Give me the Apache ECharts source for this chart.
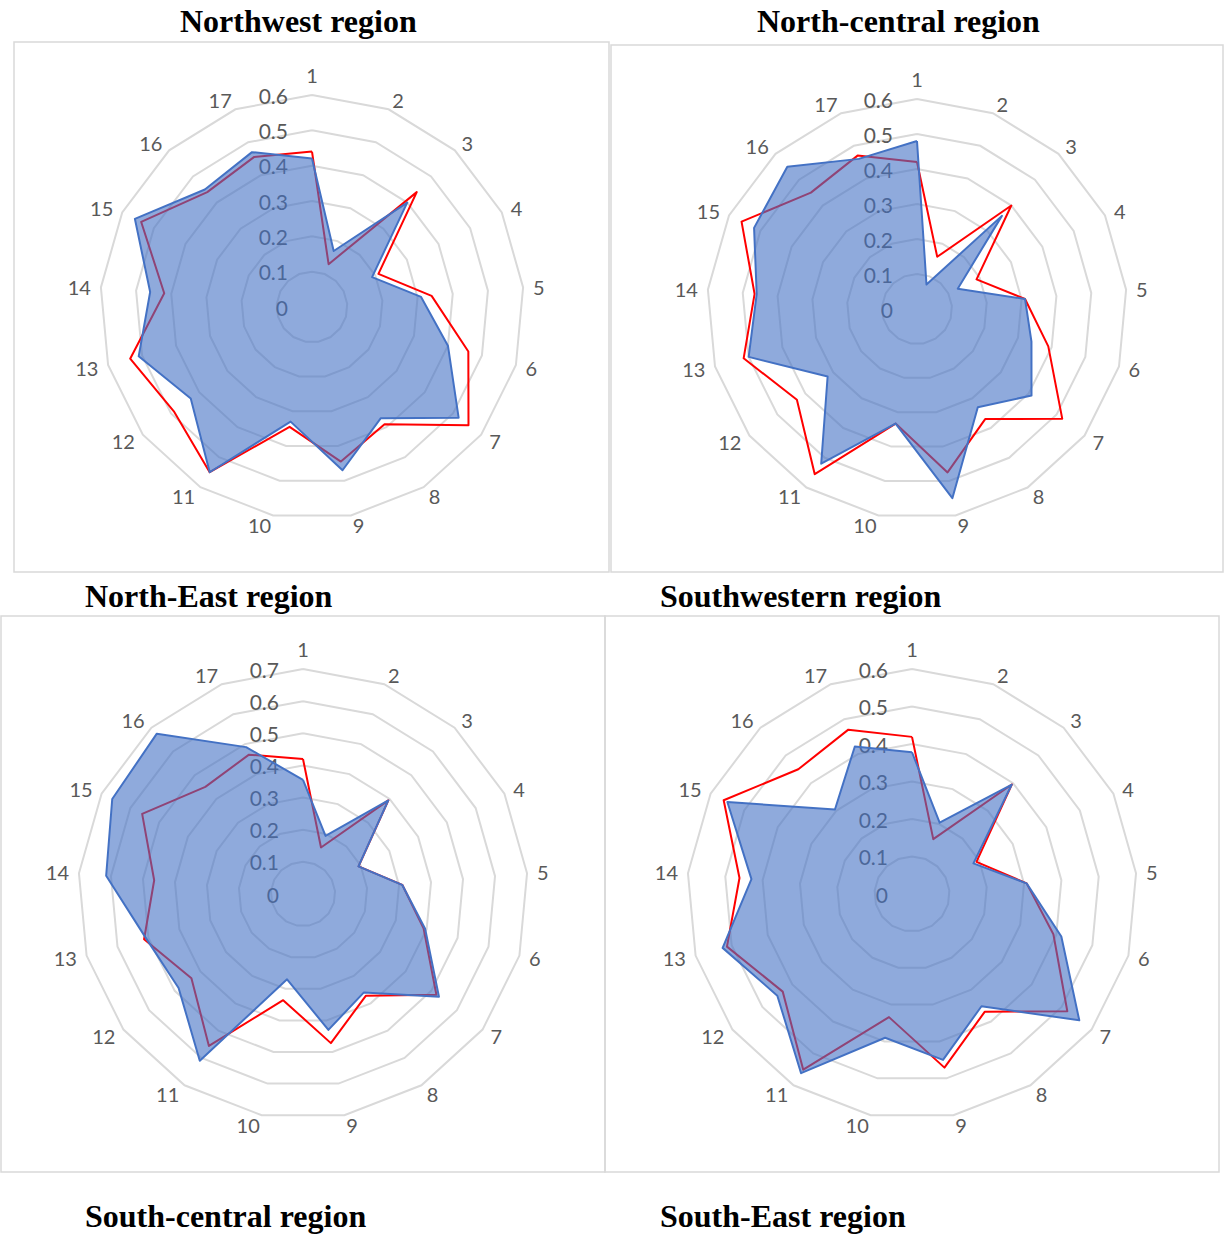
<!DOCTYPE html>
<html>
<head>
<meta charset="utf-8">
<script src="https://cdn.jsdelivr.net/npm/echarts@6/dist/echarts.min.js"></script>
<style>
html,body{margin:0;padding:0;background:#fff;}
#c{width:1225px;height:1237px;}
</style>
</head>
<body>
<div id="c"></div>
<script>
const axisNames = ['1','2','3','4','5','6','7','8','9','10','11','12','13','14','15','16','17'];
const regionTitles = ['Northwest region','North-central region','North-East region','Southwestern region','South-central region','South-East region'];

// Chart 1 (top-left)
const c1Blue = [0.42,0.17,0.40,0.19,0.31,0.40,0.52,0.37,0.47,0.33,0.55,0.43,0.51,0.46,0.56,0.45,0.47];
const c1Red  = [0.44,0.13,0.44,0.21,0.34,0.46,0.555,0.39,0.445,0.345,0.55,0.49,0.535,0.42,0.54,0.44,0.455];
// Chart 2 (top-right)
const c2Blue = [0.48,0.075,0.36,0.13,0.31,0.34,0.41,0.33,0.55,0.333,0.52,0.32,0.50,0.46,0.52,0.55,0.46];
const c2Red  = [0.42,0.16,0.40,0.19,0.31,0.39,0.52,0.37,0.475,0.333,0.555,0.43,0.515,0.466,0.56,0.45,0.47];
// Chart 3 (bottom-left)
const c3Blue = [0.355,0.194,0.394,0.193,0.31,0.395,0.53,0.36,0.43,0.27,0.61,0.485,0.507,0.615,0.663,0.675,0.49];
const c3Red  = [0.42,0.155,0.394,0.193,0.31,0.39,0.52,0.372,0.472,0.336,0.556,0.435,0.514,0.465,0.559,0.451,0.465];
// Chart 4 (bottom-right)
const c4Blue = [0.378,0.204,0.395,0.183,0.307,0.414,0.559,0.352,0.45,0.39,0.562,0.45,0.525,0.43,0.55,0.305,0.422];
const c4Red  = [0.419,0.157,0.395,0.192,0.307,0.392,0.519,0.369,0.471,0.334,0.551,0.432,0.513,0.462,0.561,0.45,0.47];

const axisMax = [0.6, 0.6, 0.7, 0.6];

// ECharts radar places indicators counter-clockwise; reorder so they read clockwise.
const order = [0].concat(Array.from({length: 16}, (_, i) => 16 - i));
const reorder = arr => order.map(i => arr[i]);

const labelFont = 'Lato, "Liberation Sans", sans-serif';
const grey = '#595959';

function makeRadar(center, radius, max) {
  return {
    center: center,
    radius: radius,
    startAngle: 90,
    splitNumber: Math.round(max * 10),
    shape: 'polygon',
    nameGap: 10,
    axisName: {color: grey, fontSize: 20, fontFamily: labelFont},
    indicator: order.map((i, k) => ({
      name: axisNames[i], min: 0, max: max,
      axisLabel: {show: k === 0}
    })),
    splitLine: {lineStyle: {color: '#d9d9d9', width: 2}},
    splitArea: {show: false},
    axisLine: {show: false},
    axisTick: {show: false},
    axisLabel: {
      show: false, color: grey, fontSize: 21, fontFamily: labelFont, margin: 24,
      formatter: v => String(Math.round(v * 10) / 10)
    }
  };
}

function makeSeries(idx, blue, red) {
  return {
    type: 'radar', radarIndex: idx, symbol: 'none', silent: true,
    data: [
      {value: reorder(red), lineStyle: {color: '#ff0000', width: 2}},
      {value: reorder(blue), lineStyle: {color: '#4472c4', width: 2},
       areaStyle: {color: '#4472c4', opacity: 0.6}}
    ]
  };
}

const titleStyle = {fontFamily: '"Liberation Serif", "Times New Roman", serif', fontWeight: 'bold', fontSize: 32, color: '#000'};
const titlePos = [[180, 5], [757, 5], [85, 580], [660, 580], [85, 1200], [660, 1200]];

const boxes = [[14, 42, 595, 530], [611, 45, 612, 527], [1, 616, 604, 556], [605, 616, 614, 556]];

const chart = echarts.init(document.getElementById('c'), null, {renderer: 'svg'});
chart.setOption({
  animation: false,
  backgroundColor: '#fff',
  title: regionTitles.map((t, i) => ({text: t, left: titlePos[i][0], top: titlePos[i][1], padding: 0, textStyle: titleStyle})),
  graphic: boxes.map(b => ({type: 'rect', shape: {x: b[0], y: b[1], width: b[2], height: b[3]}, style: {fill: 'none', stroke: '#d9d9d9', lineWidth: 1.5}, silent: true, z: -10})),
  radar: [
    makeRadar([312, 307], 212, axisMax[0]),
    makeRadar([917, 309], 210, axisMax[1]),
    makeRadar([303, 894], 225, axisMax[2]),
    makeRadar([912, 894], 225, axisMax[3])
  ],
  series: [
    makeSeries(0, c1Blue, c1Red),
    makeSeries(1, c2Blue, c2Red),
    makeSeries(2, c3Blue, c3Red),
    makeSeries(3, c4Blue, c4Red)
  ]
});
</script>
</body>
</html>
